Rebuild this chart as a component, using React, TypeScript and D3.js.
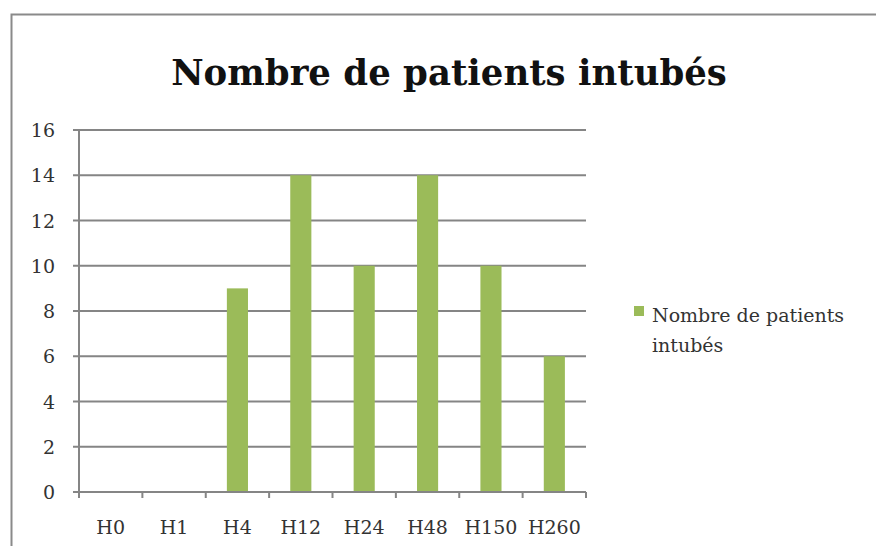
import { useEffect, useRef } from 'react'
import * as d3 from 'd3'

const categories = ['H0', 'H1', 'H4', 'H12', 'H24', 'H48', 'H150', 'H260']
const values = [0, 0, 9, 14, 10, 14, 10, 6]
const yTicks = [0, 2, 4, 6, 8, 10, 12, 14, 16]
const seriesName = 'Nombre de patients intubés'
const legendLines = ['Nombre de patients', 'intubés']

const W = 876
const H = 546
const FONT = '"DejaVu Serif", serif'
const GRID = '#858585'

export default function App() {
  const svgRef = useRef<SVGSVGElement>(null)

  useEffect(() => {
    if (!svgRef.current) return
    const svg = d3.select(svgRef.current)
    svg.selectAll('*').remove()

    svg.append('rect').attr('width', W).attr('height', H).attr('fill', '#fff')

    // outer frame (only left + top are in view)
    svg.append('path')
      .attr('d', `M11.5,${H} L11.5,14.5 L${W},14.5`)
      .attr('fill', 'none')
      .attr('stroke', '#8a8a8a')
      .attr('stroke-width', 2)

    svg.append('text')
      .attr('x', 449)
      .attr('y', 85)
      .attr('text-anchor', 'middle')
      .attr('font-family', FONT)
      .attr('font-weight', 'bold')
      .attr('font-size', 35.5)
      .attr('fill', '#111')
      .text(seriesName)

    const x0 = 79, x1 = 586, yTop = 130, yBot = 492
    const x = d3.scaleBand<string>().domain(categories).range([x0, x1]).paddingInner(0.667).paddingOuter(0.333)
    const band = d3.scaleBand<string>().domain(categories).range([x0, x1])
    const y = d3.scaleLinear().domain([0, 16]).range([yBot, yTop])

    const g = svg.append('g')

    // gridlines
    g.selectAll('line.grid').data(yTicks.filter(t => t > 0)).enter().append('line')
      .attr('x1', x0 - 6).attr('x2', x1)
      .attr('y1', d => y(d)).attr('y2', d => y(d))
      .attr('stroke', GRID).attr('stroke-width', 2)

    // y labels
    g.selectAll('text.yl').data(yTicks).enter().append('text')
      .attr('x', 55).attr('y', d => y(d) + 7)
      .attr('text-anchor', 'end')
      .attr('font-family', FONT).attr('font-size', 19)
      .attr('fill', '#333')
      .text(d => d)

    // bars
    g.selectAll('rect.bar').data(values).enter().append('rect')
      .attr('x', (_, i) => x(categories[i])!)
      .attr('width', x.bandwidth())
      .attr('y', d => y(d))
      .attr('height', d => yBot - y(d))
      .attr('fill', '#9bbb59')

    // axes
    g.append('line').attr('x1', x0).attr('x2', x0).attr('y1', yTop).attr('y2', yBot)
      .attr('stroke', GRID).attr('stroke-width', 2)
    g.append('line').attr('x1', x0 - 6).attr('x2', x1).attr('y1', yBot).attr('y2', yBot)
      .attr('stroke', GRID).attr('stroke-width', 2)
    const xt = categories.map(c => band(c)!).concat([x1])
    g.selectAll('line.xt').data(xt).enter().append('line')
      .attr('x1', d => d).attr('x2', d => d)
      .attr('y1', yBot).attr('y2', yBot + 6)
      .attr('stroke', GRID).attr('stroke-width', 2)

    g.selectAll('text.xl').data(categories).enter().append('text')
      .attr('x', d => band(d)! + band.bandwidth() / 2)
      .attr('y', 534)
      .attr('text-anchor', 'middle')
      .attr('font-family', FONT).attr('font-size', 19)
      .attr('fill', '#333')
      .text(d => d)

    // legend
    svg.append('rect').attr('x', 634).attr('y', 306).attr('width', 10).attr('height', 10)
      .attr('fill', '#9bbb59')
    const lt = svg.append('text')
      .attr('font-family', FONT).attr('font-size', 19).attr('fill', '#333')
    legendLines.forEach((l, i) => {
      lt.append('tspan').attr('x', 652).attr('y', 322 + i * 30).text(l)
    })
  }, [])

  return <svg ref={svgRef} width={W} height={H} style={{ display: 'block', position: 'absolute', left: 0, top: 0 }} />
}
